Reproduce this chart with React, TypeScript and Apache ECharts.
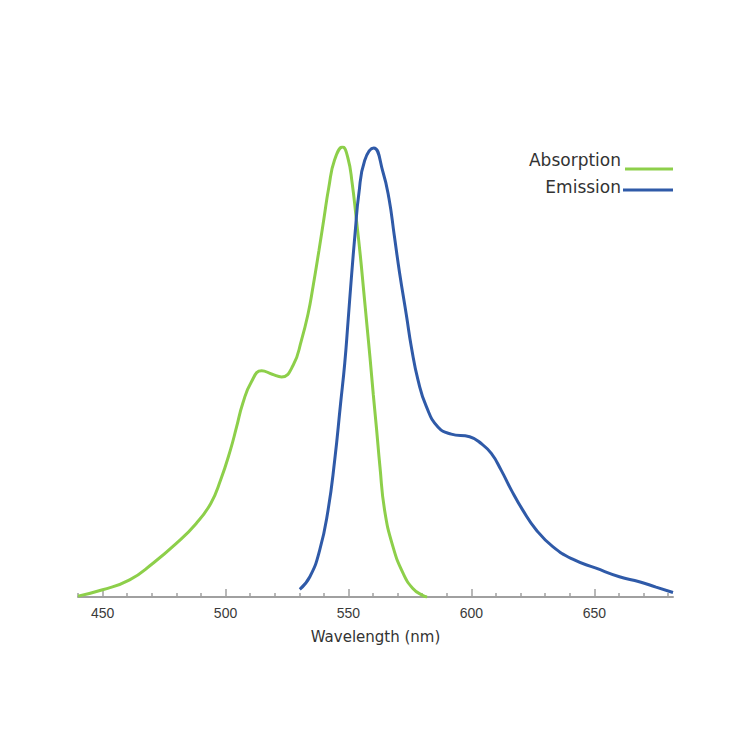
import React, { useEffect, useRef } from "react";
import * as echarts from "echarts";

// Absorption spectrum (normalized)
const absWavelengths = [440, 450, 461, 470.5, 480, 488, 494, 498, 502, 504.5, 507, 510.5, 514.7, 519, 522.8, 527.5, 530.9, 533.6, 535.6, 538, 540, 542, 544.4, 547.6, 549.8, 551.5, 553.2, 554.8, 556.2, 557.5, 558.8, 560.1, 561.4, 562.8, 564.7, 568.1, 572.2, 576.2, 580.3, 582];
const absValues = [0.002, 0.016, 0.038, 0.075, 0.119, 0.163, 0.208, 0.26, 0.327, 0.378, 0.43, 0.478, 0.503, 0.495, 0.489, 0.515, 0.571, 0.63, 0.69, 0.77, 0.84, 0.91, 0.972, 1.0, 0.975, 0.92, 0.84, 0.76, 0.68, 0.605, 0.53, 0.45, 0.375, 0.29, 0.193, 0.112, 0.053, 0.019, 0.003, 0.0];

// Emission spectrum (normalized)
const emWavelengths = [530.2, 534.3, 538.3, 541.7, 544.4, 546.8, 548.5, 549.8, 551.2, 552.8, 554.2, 556.6, 560.3, 564, 566.5, 568.6, 570.8, 573.6, 575.6, 578.3, 581.7, 586.4, 591.8, 599.3, 604, 608.1, 612.1, 616.2, 620.9, 626.4, 633.1, 641.2, 650.7, 660.2, 668.3, 675.1, 682];
const emValues = [0.017, 0.045, 0.104, 0.193, 0.304, 0.43, 0.52, 0.61, 0.71, 0.815, 0.895, 0.97, 0.998, 0.945, 0.885, 0.805, 0.72, 0.625, 0.555, 0.482, 0.423, 0.378, 0.362, 0.356, 0.341, 0.319, 0.282, 0.238, 0.193, 0.149, 0.112, 0.084, 0.064, 0.045, 0.034, 0.022, 0.01];

const majorTicks = [450, 500, 550, 600, 650];
const minorTicks = [440, 460, 470, 480, 490, 510, 520, 530, 540, 560, 570, 580, 590, 610, 620, 630, 640, 660, 670, 680];

const seriesNames = ["Absorption", "Emission"];
const GREEN = "#8dcf4a";
const BLUE = "#2f5aa8";

export default function App() {
  const ref = useRef<HTMLDivElement>(null);

  useEffect(() => {
    document.body.style.margin = "0";
    if (!ref.current) return;
    const chart = echarts.init(ref.current, null, { renderer: "svg" });

    const absData = absWavelengths.map((w, i) => [w, absValues[i]]);
    const emData = emWavelengths.map((w, i) => [w, emValues[i]]);

    const gridBox = { left: 78, right: 77, top: 147, bottom: 153 };

    chart.setOption({
      animation: false,
      backgroundColor: "#ffffff",
      grid: [
        { ...gridBox },
        { ...gridBox },
      ],
      xAxis: [
        {
          type: "value",
          gridIndex: 0,
          min: 440,
          max: 682,
          name: "Wavelength (nm)",
          nameLocation: "middle",
          nameGap: 32,
          nameTextStyle: { fontFamily: "DejaVu Sans", fontSize: 15, color: "#333333" },
          axisLine: { show: true, lineStyle: { color: "#a0a0a0", width: 2 } },
          axisTick: { show: true, inside: true, length: 8, customValues: majorTicks, lineStyle: { color: "#a0a0a0", width: 1.5 } },
          axisLabel: { show: true, customValues: majorTicks, margin: 9, fontFamily: "Liberation Sans", fontSize: 14, color: "#3a3a3a" },
          splitLine: { show: false },
        },
        {
          type: "value",
          gridIndex: 1,
          min: 440,
          max: 682,
          axisLine: { show: false },
          axisTick: { show: true, inside: true, length: 4, customValues: minorTicks, lineStyle: { color: "#a0a0a0", width: 1.5 } },
          axisLabel: { show: false },
          splitLine: { show: false },
        },
      ],
      yAxis: [
        { type: "value", gridIndex: 0, min: 0, max: 1, show: false },
        { type: "value", gridIndex: 1, min: 0, max: 1, show: false },
      ],
      series: [
        {
          name: seriesNames[0],
          type: "line",
          xAxisIndex: 0,
          yAxisIndex: 0,
          data: absData,
          smooth: 0.5,
          showSymbol: false,
          lineStyle: { color: GREEN, width: 3 },
          itemStyle: { color: GREEN },
        },
        {
          name: seriesNames[1],
          type: "line",
          xAxisIndex: 0,
          yAxisIndex: 0,
          data: emData,
          smooth: 0.5,
          showSymbol: false,
          lineStyle: { color: BLUE, width: 3 },
          itemStyle: { color: BLUE },
        },
      ],
      graphic: [
        {
          type: "text",
          x: 621,
          y: 160,
          style: { text: seriesNames[0], textAlign: "right", textVerticalAlign: "middle", fontFamily: "DejaVu Sans", fontSize: 17, fill: "#333333" },
        },
        {
          type: "line",
          shape: { x1: 625, y1: 169, x2: 673, y2: 169 },
          style: { stroke: GREEN, lineWidth: 3 },
        },
        {
          type: "text",
          x: 621,
          y: 187,
          style: { text: seriesNames[1], textAlign: "right", textVerticalAlign: "middle", fontFamily: "DejaVu Sans", fontSize: 17, fill: "#333333" },
        },
        {
          type: "line",
          shape: { x1: 623, y1: 190, x2: 673, y2: 190 },
          style: { stroke: BLUE, lineWidth: 3 },
        },
      ],
    });

    return () => chart.dispose();
  }, []);

  return <div ref={ref} style={{ width: 750, height: 750 }} />;
}
